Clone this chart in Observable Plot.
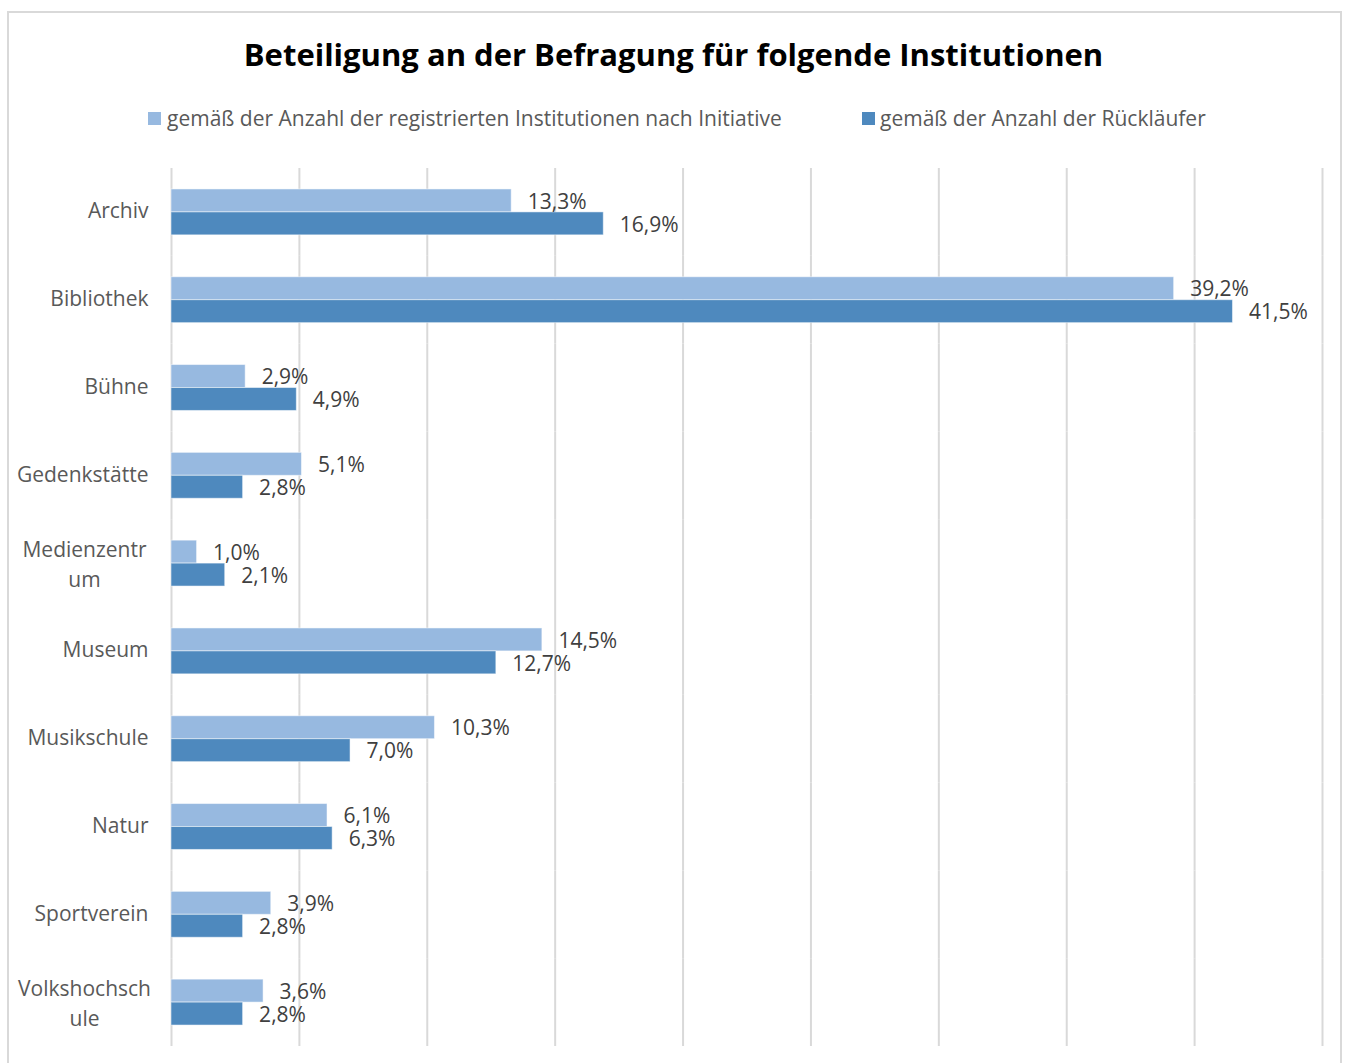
<!DOCTYPE html>
<html><head><meta charset="utf-8">
<script src="https://cdn.jsdelivr.net/npm/d3@7"></script>
<script src="https://cdn.jsdelivr.net/npm/@observablehq/plot@0.6"></script>
<style>
body{margin:0;background:#fff;font-family:"Open Sans",sans-serif;}
#wrap{position:relative;width:1347px;height:1063px;overflow:hidden;}
#frame{position:absolute;left:7px;top:11px;width:1331px;height:1100px;border:2px solid #d9d9d9;box-sizing:content-box;}
#title{position:absolute;left:0;width:1347px;top:33px;text-align:center;font-weight:bold;font-size:31px;line-height:42px;color:#000;white-space:nowrap;}
.lg{position:absolute;top:104px;font-size:21px;line-height:29px;color:#595959;white-space:nowrap;}
.sw{position:absolute;top:112px;width:13px;height:13px;}
#chart{position:absolute;left:0;top:150px;line-height:0;}
</style></head>
<body><div id="wrap"><div id="frame"></div>
<div id="title">Beteiligung an der Befragung für folgende Institutionen</div>
<div class="sw" style="left:148px;background:#97B9E0"></div><div class="lg" style="left:167px">gemäß der Anzahl der registrierten Institutionen nach Initiative</div>
<div class="sw" style="left:862px;background:#4E89BE"></div><div class="lg" style="left:880px">gemäß der Anzahl der Rückläufer</div>
<div id="chart"></div></div>
<script>
const categories = ["Archiv","Bibliothek","Bühne","Gedenkstätte","Medienzentrum","Museum","Musikschule","Natur","Sportverein","Volkshochschule"];
const categoryLabels = ["Archiv","Bibliothek","Bühne","Gedenkstätte","Medienzentr\num","Museum","Musikschule","Natur","Sportverein","Volkshochsch\nule"];
const seriesNames = ["gemäß der Anzahl der registrierten Institutionen nach Initiative","gemäß der Anzahl der Rückläufer"];
const registered = [13.3,39.2,2.9,5.1,1.0,14.5,10.3,6.1,3.9,3.6];
const returns = [16.9,41.5,4.9,2.8,2.1,12.7,7.0,6.3,2.8,2.8];
const xTicks = [0,5,10,15,20,25,30,35,40,45];
const colors = ["#97B9E0","#4E89BE"];

const data = categories.flatMap((c,i)=>[
  {cat:c, series:seriesNames[0], value:registered[i]},
  {cat:c, series:seriesNames[1], value:returns[i]}
]);
const labels = categories.map((c,i)=>({cat:c, label:categoryLabels[i], wrapped:categoryLabels[i].includes("\n")}));
const fmt = v => v.toFixed(1).replace(".", ",") + "%";

const chart = Plot.plot({
  width:1347, height:913, marginLeft:171, marginRight:25, marginTop:18, marginBottom:17,
  style:{fontFamily:"'Open Sans', sans-serif", background:"transparent"},
  x:{domain:[0,45], axis:null},
  y:{domain:seriesNames, axis:null, paddingInner:0, paddingOuter:0.913, round:false},
  fy:{domain:categories, axis:null, padding:0, round:false},
  color:{domain:seriesNames, range:colors},
  marks:[
    Plot.ruleX(xTicks, {stroke:"#d9d9d9", strokeWidth:2}),
    Plot.barX(data, {x:"value", y:"series", fy:"cat", fill:"series", stroke:"#ffffff", strokeOpacity:0.5, strokeWidth:1}),
    Plot.text(data, {x:"value", y:"series", fy:"cat", text:d=>fmt(d.value), textAnchor:"start", dx:16, dy:1, fontSize:21, fill:"#404040"}),
    Plot.text(labels.filter(d=>!d.wrapped), {fy:"cat", text:"label", frameAnchor:"left", textAnchor:"end", dx:-23, dy:-1, fontSize:21, fill:"#595959"}),
    Plot.text(labels.filter(d=>d.wrapped), {fy:"cat", text:"label", frameAnchor:"left", textAnchor:"middle", dx:-87, dy:-1, fontSize:21, lineHeight:1.4, fill:"#595959"})
  ]
});
document.getElementById("chart").appendChild(chart);
</script></body></html>
